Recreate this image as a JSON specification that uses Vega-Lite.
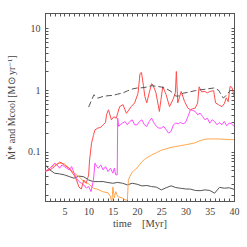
{
  "$schema": "https://vega.github.io/schema/vega-lite/v6.json",
  "width": 189,
  "height": 188,
  "autosize": {"type": "none"},
  "padding": {"left": 45, "top": 13, "right": 13, "bottom": 46},
  "background": "white",
  "config": {
    "view": {"stroke": "#555555", "strokeWidth": 1},
    "font": "Liberation Serif",
    "axis": {"domainColor": "#555555", "tickColor": "#555555", "labelColor": "#444444", "titleColor": "#444444", "labelFont": "Liberation Serif", "titleFont": "Liberation Serif", "titleFontWeight": "normal", "grid": false, "labelOverlap": false, "labelFlush": false, "labelBound": false, "tickWidth": 1}
  },
  "datasets": {
    "main": [
      {"s":"black","t":1,"v":0.062},{"s":"black","t":2,"v":0.051},{"s":"black","t":3,"v":0.045},{"s":"black","t":4,"v":0.044},{"s":"black","t":5,"v":0.0424},{"s":"black","t":6,"v":0.0398},{"s":"black","t":7,"v":0.0374},{"s":"black","t":8,"v":0.0405},{"s":"black","t":9,"v":0.0395},{"s":"black","t":10,"v":0.035},{"s":"black","t":11,"v":0.033},{"s":"black","t":12,"v":0.033},{"s":"black","t":13,"v":0.033},{"s":"black","t":14,"v":0.0318},{"s":"black","t":15,"v":0.031},{"s":"black","t":16,"v":0.032},{"s":"black","t":17,"v":0.031},{"s":"black","t":18,"v":0.0292},{"s":"black","t":19,"v":0.031},{"s":"black","t":20,"v":0.0299},{"s":"black","t":21,"v":0.0281},{"s":"black","t":22,"v":0.0285},{"s":"black","t":23,"v":0.0274},{"s":"black","t":24,"v":0.0268},{"s":"black","t":25,"v":0.0242},{"s":"black","t":26,"v":0.0262},{"s":"black","t":27,"v":0.0282},{"s":"black","t":28,"v":0.0264},{"s":"black","t":29,"v":0.0257},{"s":"black","t":30,"v":0.0251},{"s":"black","t":31,"v":0.0249},{"s":"black","t":32,"v":0.0237},{"s":"black","t":33,"v":0.0235},{"s":"black","t":34,"v":0.0242},{"s":"black","t":35,"v":0.0237},{"s":"black","t":36,"v":0.0214},{"s":"black","t":37,"v":0.0266},{"s":"black","t":38,"v":0.0258},{"s":"black","t":39,"v":0.0262},{"s":"black","t":40,"v":0.0247},

      {"s":"orange","t":1,"v":0.048},{"s":"orange","t":2,"v":0.0543},{"s":"orange","t":3,"v":0.0615},{"s":"orange","t":4,"v":0.0656},{"s":"orange","t":5,"v":0.064},{"s":"orange","t":6,"v":0.0543},{"s":"orange","t":7,"v":0.0451},{"s":"orange","t":8,"v":0.0398},{"s":"orange","t":9,"v":0.033},{"s":"orange","t":10,"v":0.0303},{"s":"orange","t":11,"v":0.0257},{"s":"orange","t":12,"v":0.0245},{"s":"orange","t":13,"v":0.0225},{"s":"orange","t":14,"v":0.0218},{"s":"orange","t":14.5,"v":0.0189},{"s":"orange","t":14.8,"v":0.015},{"s":"orange","t":15,"v":0.027},{"s":"orange","t":15.3,"v":0.018},{"s":"orange","t":15.6,"v":0.0227},{"s":"orange","t":16,"v":0.0189},{"s":"orange","t":17,"v":0.0178},{"s":"orange","t":17.5,"v":0.0167},{"s":"orange","t":18,"v":0.0165},{"s":"orange","t":18.2,"v":0.0345},{"s":"orange","t":18.5,"v":0.04},{"s":"orange","t":19,"v":0.047},{"s":"orange","t":19.5,"v":0.051},{"s":"orange","t":20,"v":0.055},{"s":"orange","t":20.5,"v":0.062},{"s":"orange","t":21,"v":0.069},{"s":"orange","t":21.5,"v":0.075},{"s":"orange","t":22,"v":0.08},{"s":"orange","t":23,"v":0.089},{"s":"orange","t":24,"v":0.097},{"s":"orange","t":25,"v":0.106},{"s":"orange","t":26,"v":0.112},{"s":"orange","t":27,"v":0.118},{"s":"orange","t":28,"v":0.122},{"s":"orange","t":29,"v":0.126},{"s":"orange","t":30,"v":0.13},{"s":"orange","t":31,"v":0.135},{"s":"orange","t":32,"v":0.14},{"s":"orange","t":33,"v":0.152},{"s":"orange","t":34,"v":0.16},{"s":"orange","t":35,"v":0.162},{"s":"orange","t":36,"v":0.162},{"s":"orange","t":37,"v":0.161},{"s":"orange","t":38,"v":0.16},{"s":"orange","t":39,"v":0.158},{"s":"orange","t":40,"v":0.157},

      {"s":"magenta","t":1,"v":0.048},{"s":"magenta","t":2,"v":0.054},{"s":"magenta","t":3,"v":0.0656},{"s":"magenta","t":3.5,"v":0.0615},{"s":"magenta","t":4,"v":0.0543},{"s":"magenta","t":4.5,"v":0.0615},{"s":"magenta","t":5,"v":0.0578},{"s":"magenta","t":6,"v":0.051},{"s":"magenta","t":6.5,"v":0.0578},{"s":"magenta","t":7,"v":0.0451},{"s":"magenta","t":7.5,"v":0.0374},{"s":"magenta","t":8,"v":0.033},{"s":"magenta","t":8.5,"v":0.031},{"s":"magenta","t":9,"v":0.0292},{"s":"magenta","t":9.5,"v":0.026},{"s":"magenta","t":10,"v":0.0274},{"s":"magenta","t":10.5,"v":0.0227},{"s":"magenta","t":11,"v":0.0351},{"s":"magenta","t":11.3,"v":0.0656},{"s":"magenta","t":11.7,"v":0.0578},{"s":"magenta","t":12,"v":0.0543},{"s":"magenta","t":12.5,"v":0.0615},{"s":"magenta","t":13,"v":0.051},{"s":"magenta","t":13.5,"v":0.0578},{"s":"magenta","t":14,"v":0.048},{"s":"magenta","t":14.5,"v":0.0543},{"s":"magenta","t":15,"v":0.0451},{"s":"magenta","t":15.3,"v":0.0543},{"s":"magenta","t":15.6,"v":0.0424},{"s":"magenta","t":15.9,"v":0.0424},{"s":"magenta","t":16,"v":0.351},{"s":"magenta","t":16.2,"v":0.258},{"s":"magenta","t":16.5,"v":0.274},{"s":"magenta","t":17,"v":0.292},{"s":"magenta","t":17.5,"v":0.31},{"s":"magenta","t":18,"v":0.274},{"s":"magenta","t":18.5,"v":0.31},{"s":"magenta","t":19,"v":0.33},{"s":"magenta","t":19.5,"v":0.274},{"s":"magenta","t":20,"v":0.274},{"s":"magenta","t":20.5,"v":0.31},{"s":"magenta","t":21,"v":0.33},{"s":"magenta","t":21.5,"v":0.274},{"s":"magenta","t":22,"v":0.258},{"s":"magenta","t":22.5,"v":0.31},{"s":"magenta","t":23,"v":0.351},{"s":"magenta","t":23.5,"v":0.292},{"s":"magenta","t":24,"v":0.258},{"s":"magenta","t":24.5,"v":0.242},{"s":"magenta","t":25,"v":0.242},{"s":"magenta","t":25.5,"v":0.258},{"s":"magenta","t":26,"v":0.228},{"s":"magenta","t":26.5,"v":0.201},{"s":"magenta","t":27,"v":0.214},{"s":"magenta","t":27.5,"v":0.274},{"s":"magenta","t":28,"v":0.292},{"s":"magenta","t":28.5,"v":0.285},{"s":"magenta","t":29,"v":0.299},{"s":"magenta","t":29.5,"v":0.285},{"s":"magenta","t":30,"v":0.299},{"s":"magenta","t":30.5,"v":0.374},{"s":"magenta","t":31,"v":0.48},{"s":"magenta","t":31.5,"v":0.468},{"s":"magenta","t":32,"v":0.451},{"s":"magenta","t":32.5,"v":0.398},{"s":"magenta","t":33,"v":0.424},{"s":"magenta","t":33.5,"v":0.374},{"s":"magenta","t":34,"v":0.33},{"s":"magenta","t":34.5,"v":0.351},{"s":"magenta","t":35,"v":0.292},{"s":"magenta","t":35.5,"v":0.33},{"s":"magenta","t":36,"v":0.31},{"s":"magenta","t":36.5,"v":0.274},{"s":"magenta","t":37,"v":0.299},{"s":"magenta","t":37.5,"v":0.274},{"s":"magenta","t":38,"v":0.31},{"s":"magenta","t":38.5,"v":0.264},{"s":"magenta","t":39,"v":0.292},{"s":"magenta","t":39.5,"v":0.285},{"s":"magenta","t":40,"v":0.258},

      {"s":"red","t":1,"v":0.048},{"s":"red","t":2,"v":0.051},{"s":"red","t":2.5,"v":0.054},{"s":"red","t":3,"v":0.058},{"s":"red","t":4,"v":0.068},{"s":"red","t":4.5,"v":0.066},{"s":"red","t":5,"v":0.061},{"s":"red","t":6,"v":0.054},{"s":"red","t":7,"v":0.042},{"s":"red","t":7.5,"v":0.035},{"s":"red","t":8,"v":0.027},{"s":"red","t":8.5,"v":0.025},{"s":"red","t":9,"v":0.035},{"s":"red","t":9.5,"v":0.031},{"s":"red","t":10,"v":0.042},{"s":"red","t":10.2,"v":0.074},{"s":"red","t":10.6,"v":0.138},{"s":"red","t":11,"v":0.185},{"s":"red","t":11.3,"v":0.227},{"s":"red","t":11.9,"v":0.242},{"s":"red","t":12.5,"v":0.25},{"s":"red","t":13,"v":0.274},{"s":"red","t":13.5,"v":0.3},{"s":"red","t":13.7,"v":0.4},{"s":"red","t":14.1,"v":0.48},{"s":"red","t":14.7,"v":0.33},{"s":"red","t":15.2,"v":0.37},{"s":"red","t":15.7,"v":0.35},{"s":"red","t":16.4,"v":0.54},{"s":"red","t":17.1,"v":0.58},{"s":"red","t":17.8,"v":0.42},{"s":"red","t":18.8,"v":0.54},{"s":"red","t":19.5,"v":0.62},{"s":"red","t":20.2,"v":0.89},{"s":"red","t":20.6,"v":1.85},{"s":"red","t":20.9,"v":1.93},{"s":"red","t":21.3,"v":1.2},{"s":"red","t":21.6,"v":0.79},{"s":"red","t":22,"v":0.62},{"s":"red","t":22.5,"v":0.9},{"s":"red","t":23,"v":1.27},{"s":"red","t":23.3,"v":1.2},{"s":"red","t":23.9,"v":0.9},{"s":"red","t":24.6,"v":0.45},{"s":"red","t":25.3,"v":1.14},{"s":"red","t":26,"v":0.84},{"s":"red","t":26.7,"v":0.54},{"s":"red","t":27.4,"v":0.7},{"s":"red","t":27.9,"v":0.9},{"s":"red","t":28.1,"v":2.0},{"s":"red","t":28.4,"v":0.62},{"s":"red","t":29.1,"v":0.95},{"s":"red","t":29.8,"v":0.65},{"s":"red","t":30.5,"v":0.51},{"s":"red","t":31,"v":0.48},{"s":"red","t":31.5,"v":0.5},{"s":"red","t":32,"v":0.51},{"s":"red","t":32.5,"v":0.62},{"s":"red","t":32.8,"v":1.13},{"s":"red","t":33.3,"v":0.94},{"s":"red","t":34,"v":0.95},{"s":"red","t":34.5,"v":0.9},{"s":"red","t":35,"v":0.95},{"s":"red","t":35.8,"v":0.98},{"s":"red","t":36.2,"v":0.62},{"s":"red","t":36.8,"v":0.58},{"s":"red","t":37.5,"v":0.54},{"s":"red","t":38,"v":0.6},{"s":"red","t":38.4,"v":0.75},{"s":"red","t":38.8,"v":0.65},{"s":"red","t":39.2,"v":1.15},{"s":"red","t":39.6,"v":1.1},{"s":"red","t":40,"v":0.8}
    ],
    "dashed": [
      {"t":10,"v":0.53},{"t":10.5,"v":0.655},{"t":11.1,"v":0.84},{"t":11.9,"v":0.74},{"t":13,"v":0.79},{"t":14,"v":0.81},{"t":15,"v":0.82},{"t":16,"v":0.861},{"t":17,"v":0.894},{"t":18,"v":0.97},{"t":19,"v":1.04},{"t":20,"v":1.08},{"t":21,"v":1.09},{"t":22,"v":1.12},{"t":23,"v":1.18},{"t":24,"v":1.15},{"t":25,"v":1.12},{"t":26,"v":1.06},{"t":27,"v":0.95},{"t":28,"v":0.8},{"t":28.5,"v":0.8},{"t":29.5,"v":0.89},{"t":30.8,"v":0.93},{"t":32,"v":0.98},{"t":33,"v":1.01},{"t":34,"v":1.03},{"t":35.8,"v":1.08},{"t":36.8,"v":1.0},{"t":37.8,"v":0.74},{"t":38.5,"v":0.84},{"t":39.2,"v":0.98},{"t":40,"v":0.99}
    ]
  },
  "layer": [
    {
      "data": {"name": "main"},
      "mark": {"type": "line", "clip": true, "strokeWidth": 1},
      "encoding": {
        "x": {"field": "t", "type": "quantitative",
          "scale": {"domain": [1, 40], "nice": false, "zero": false},
          "axis": {"orient": "bottom", "values": [1,2,3,4,5,6,7,8,9,10,11,12,13,14,15,16,17,18,19,20,21,22,23,24,25,26,27,28,29,30,31,32,33,34,35,36,37,38,39,40],
            "tickSize": -3, "labelPadding": 8, "labelFontSize": 10,
            "labelExpr": "datum.value % 5 === 0 ? datum.label : ''",
            "title": "time\u00a0\u00a0\u00a0\u00a0[Myr]", "titleFontSize": 10.5, "titlePadding": 2,
            "encode": {"ticks": {"update": {"y2": [{"test": "datum.value % 5 === 0", "value": -6}, {"value": -3}]}}}}},
        "y": {"field": "v", "type": "quantitative",
          "scale": {"type": "log", "domain": [0.016, 17.7], "nice": false},
          "axis": {"orient": "left", "values": [0.02,0.03,0.04,0.05,0.06,0.07,0.08,0.09,0.1,0.2,0.3,0.4,0.5,0.6,0.7,0.8,0.9,1,2,3,4,5,6,7,8,9,10],
            "tickSize": -3, "labelPadding": 8, "labelFontSize": 10,
            "labelExpr": "datum.value === 10 ? '10' : datum.value === 1 ? '1' : datum.value === 0.1 ? '0.1' : ''",
            "title": "Ṁ* and Ṁcool [M⊙ yr⁻¹]", "titleFontSize": 10, "titlePadding": 11,
            "encode": {"ticks": {"update": {"x2": [{"test": "datum.value === 0.1 || datum.value === 1 || datum.value === 10", "value": 6}, {"value": 3}]}}}}},
        "color": {"field": "s", "type": "nominal",
          "scale": {"domain": ["black", "orange", "magenta", "red"], "range": ["#555555", "#ffa64d", "#ff4dff", "#ff4d4d"]},
          "legend": null}
      }
    },
    {
      "data": {"name": "dashed"},
      "mark": {"type": "line", "clip": true, "strokeWidth": 1, "strokeDash": [6, 3], "color": "#555555"},
      "encoding": {
        "x": {"field": "t", "type": "quantitative",
          "scale": {"domain": [1, 40], "nice": false, "zero": false},
          "axis": {"orient": "top", "values": [1,2,3,4,5,6,7,8,9,10,11,12,13,14,15,16,17,18,19,20,21,22,23,24,25,26,27,28,29,30,31,32,33,34,35,36,37,38,39,40],
            "tickSize": -3, "labels": false, "title": null,
            "encode": {"ticks": {"update": {"y2": [{"test": "datum.value % 5 === 0", "value": 6}, {"value": 3}]}}}}},
        "y": {"field": "v", "type": "quantitative",
          "scale": {"type": "log", "domain": [0.016, 17.7], "nice": false},
          "axis": {"orient": "right", "values": [0.02,0.03,0.04,0.05,0.06,0.07,0.08,0.09,0.1,0.2,0.3,0.4,0.5,0.6,0.7,0.8,0.9,1,2,3,4,5,6,7,8,9,10],
            "tickSize": -3, "labels": false, "title": null,
            "encode": {"ticks": {"update": {"x2": [{"test": "datum.value === 0.1 || datum.value === 1 || datum.value === 10", "value": -6}, {"value": -3}]}}}}}
      }
    }
  ],
  "resolve": {"axis": {"x": "independent", "y": "independent"}}
}
